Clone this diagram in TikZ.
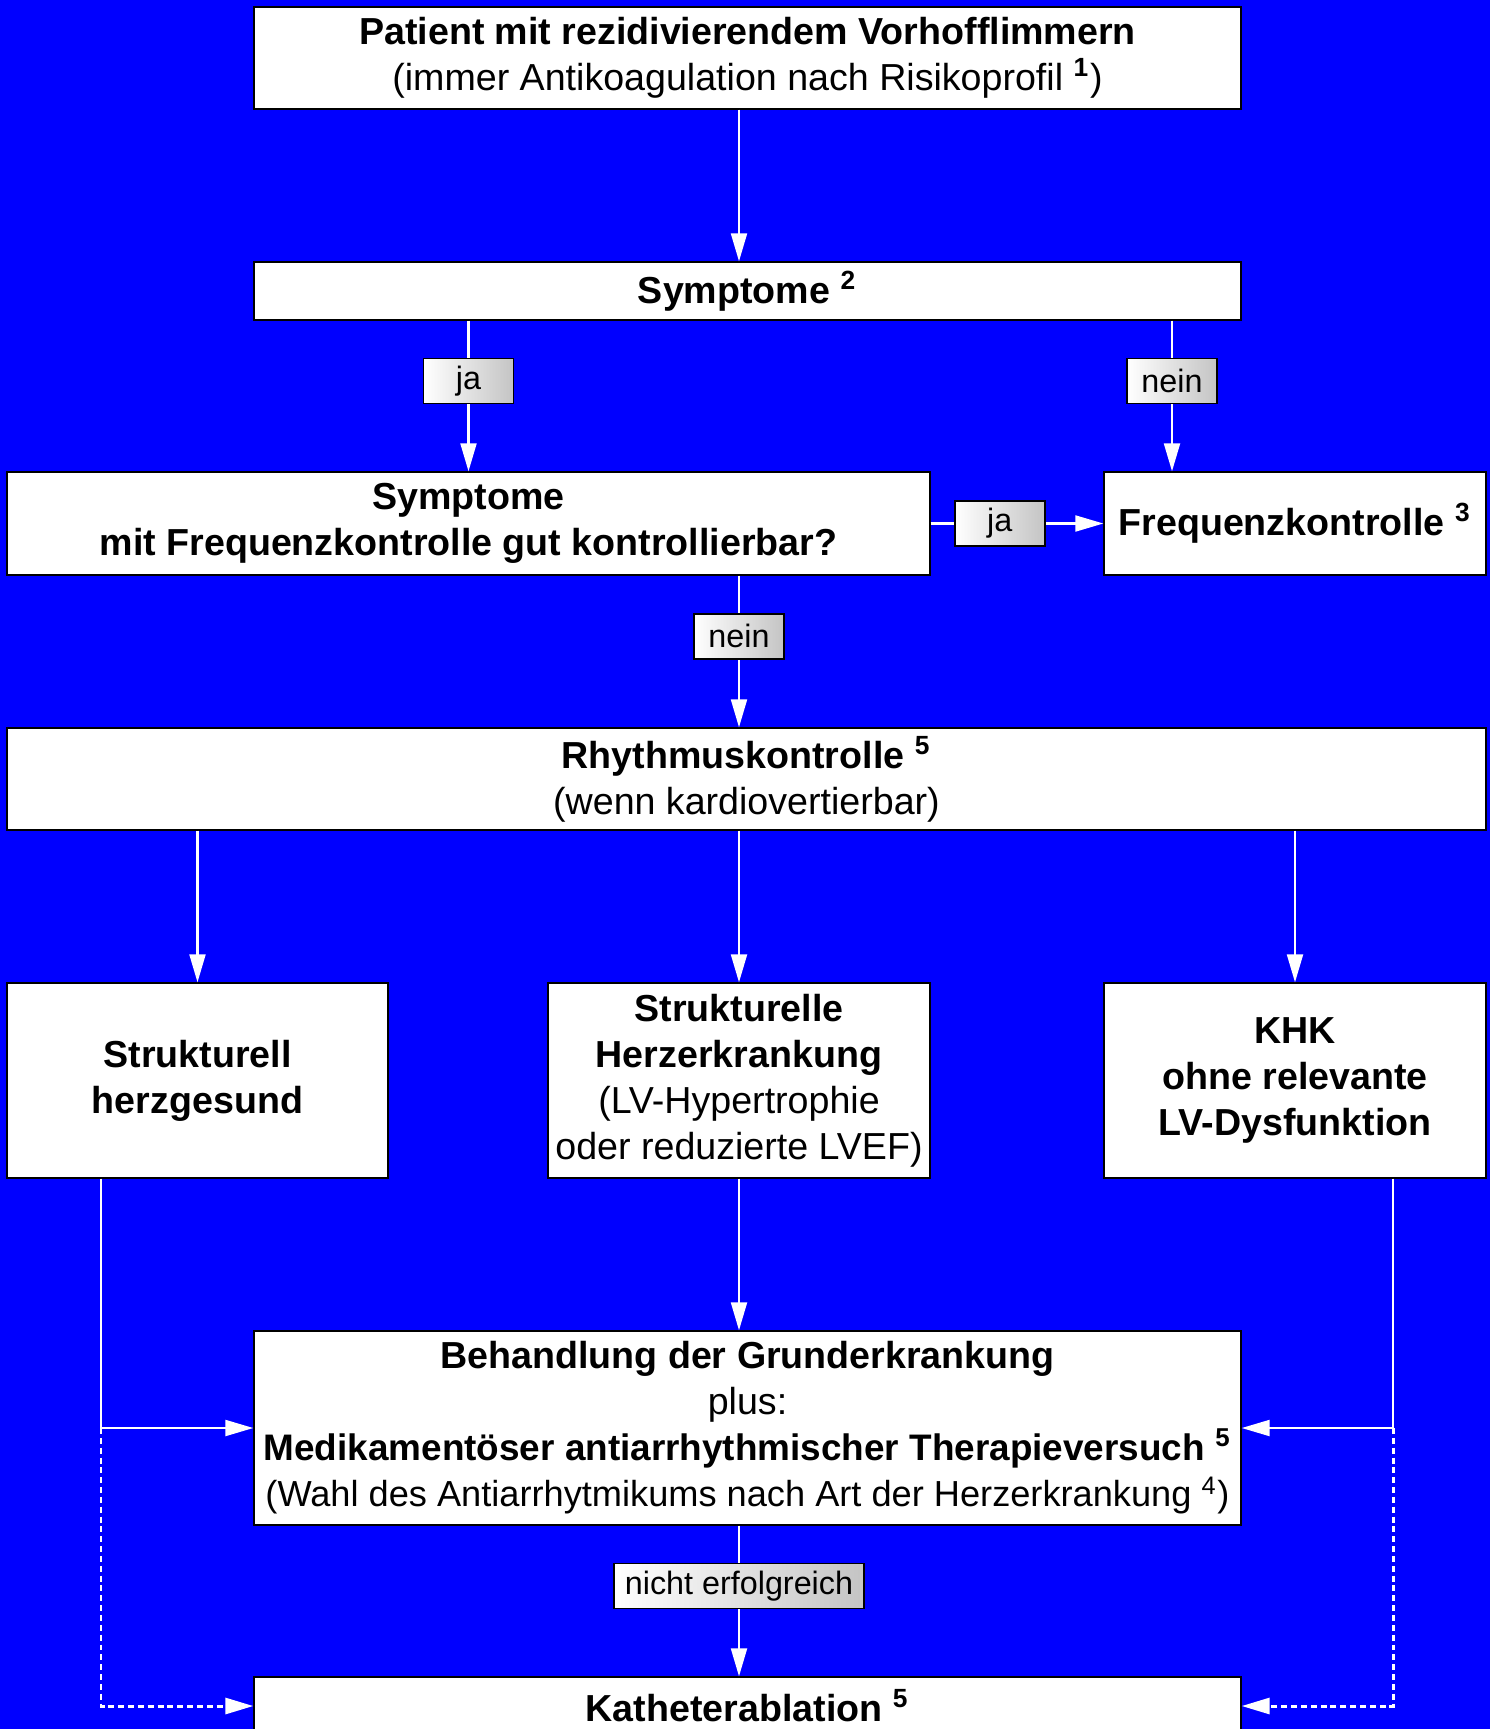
\documentclass[tikz,border=0pt]{standalone}
\usepackage{fontspec}
\setmainfont{Liberation Sans}
\usetikzlibrary{arrows.meta,calc}
\definecolor{bgblue}{RGB}{0,0,255}
\definecolor{lblgray}{RGB}{196,196,196}

\begin{document}
\begin{tikzpicture}[
  box/.style={draw=black,fill=white,line width=0.4pt,align=center,inner sep=0pt,
    font=\fontsize{10.7}{13.1}\selectfont},
  lbl/.style={draw=black,text=black,line width=0.5pt,left color=white,right color=lblgray,
    inner xsep=0.11cm,inner ysep=0pt,minimum width=0.9cm,minimum height=0.45cm,
    font=\fontsize{9.2}{11}\selectfont},
  conn/.style={white,line width=0.6pt,-{Triangle[length=2.8mm,width=1.6mm]}},
  dotline/.style={conn,line width=0.85pt,dash pattern=on 1.7pt off 1.1pt}]
  \fill[bgblue] (0,0) rectangle (14.9,-17.29);
  \useasboundingbox (0,0) rectangle (14.9,-17.29);
  \clip (0,0) rectangle (14.9,-17.29);
  \node[box,minimum width=9.87cm,minimum height=1.02cm] (top) at (7.475,-0.58)
    {\textbf{Patient mit rezidivierendem Vorhofflimmern}\\(immer Antikoagulation nach Risikoprofil \textsuperscript{\textbf{1}})};
  \node[box,minimum width=9.87cm,minimum height=0.58cm] (symp) at (7.475,-2.91)
    {\textbf{Symptome \textsuperscript{2}}};
  \node[box,minimum width=9.23cm,minimum height=1.03cm] (q) at (4.685,-5.235)
    {\textbf{Symptome}\\\textbf{mit Frequenzkontrolle gut kontrollierbar?}};
  \node[box,minimum width=3.82cm,minimum height=1.03cm] (freq) at (12.95,-5.235)
    {\textbf{Frequenzkontrolle \textsuperscript{3}}};
  \node[box,minimum width=14.79cm,minimum height=1.02cm] (rhy) at (7.465,-7.79)
    {\textbf{Rhythmuskontrolle \textsuperscript{5}}\\(wenn kardiovertierbar)};
  \node[box,minimum width=3.81cm,minimum height=1.95cm] (ges) at (1.975,-10.805)
    {\textbf{Strukturell}\\\textbf{herzgesund}};
  \node[box,minimum width=3.82cm,minimum height=1.95cm] (herz) at (7.39,-10.805)
    {\textbf{Strukturelle}\\\textbf{Herzerkrankung}\\(LV-Hypertrophie\\oder reduzierte LVEF)};
  \node[box,minimum width=3.82cm,minimum height=1.95cm] (khk) at (12.95,-10.805)
    {\textbf{KHK}\\\textbf{ohne relevante}\\\textbf{LV-Dysfunktion}};
  \node[box,minimum width=9.87cm,minimum height=1.94cm] (beh) at (7.475,-14.28)
    {\textbf{Behandlung der Grunderkrankung}\\plus:\\{\fontsize{10.5}{13.1}\selectfont\textbf{Medikamentöser antiarrhythmischer Therapieversuch \textsuperscript{5}}}\\{\fontsize{10.3}{13.1}\selectfont(Wahl des Antiarrhytmikums nach Art der Herzerkrankung \textsuperscript{4})}};
  \node[box,minimum width=9.87cm,minimum height=0.58cm] (kath) at (7.475,-17.06)
    {\textbf{Katheterablation \textsuperscript{5}}};
  \coordinate (nn) at (11.72,-2.91);
  \coordinate (lx) at (1.01,0);
  \coordinate (rx) at (13.93,0);
  \draw[conn] (top.south -| herz) -- (symp.north -| herz);
  \draw[conn] (symp.south -| q) -- node[lbl,pos=.4] (ja1) {ja} (q.north);
  \draw[conn] (symp.south -| nn) -- node[lbl,pos=.4] (nein1) {nein} (freq.north -| nn);
  \draw[conn] (q) -- node[lbl,pos=.4] (ja2) {ja} (freq);
  \draw[conn] (q.south -| herz) -- node[lbl,pos=.4] (nein2) {nein} (rhy.north -| herz);
  \draw[conn] (rhy.south -| ges) -- (ges.north);
  \draw[conn] (rhy.south -| herz) -- (herz.north);
  \draw[conn] (rhy.south -| khk) -- (khk.north);
  \draw[conn] (herz.south) -- (beh.north -| herz);
  \draw[conn] (beh.south -| herz) -- node[lbl,pos=.4] (nerf) {nicht erfolgreich} (kath.north -| herz);
  \draw[conn] (ges.south -| lx) |- (beh.west);
  \draw[conn] (khk.south -| rx) |- (beh.east);
  \draw[dotline] (beh.west -| lx) |- (kath.west);
  \draw[dotline] (beh.east -| rx) |- (kath.east);
\end{tikzpicture}
\end{document}
